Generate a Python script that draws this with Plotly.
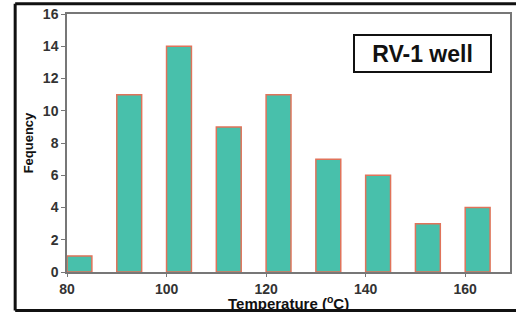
import plotly.graph_objects as go

bin_starts = [80, 90, 100, 110, 120, 130, 140, 150, 160]
frequency = [1, 11, 14, 9, 11, 7, 6, 3, 4]
bin_width = 5
x_ticks = [80, 100, 120, 140, 160]
y_ticks = [0, 2, 4, 6, 8, 10, 12, 14, 16]

fig = go.Figure()
fig.add_trace(go.Bar(
    x=[b + bin_width / 2 for b in bin_starts],
    y=frequency,
    width=bin_width,
    marker=dict(color="#48c0ab", line=dict(color="#e0735a", width=1.5)),
))

tick_font = dict(family="Liberation Sans, Arial", size=14, color="#333333", weight="bold")
fig.update_layout(
    width=516, height=315,
    margin=dict(l=67, r=4, t=14, b=43),
    paper_bgcolor="white", plot_bgcolor="white",
    showlegend=False,
    font=dict(family="Liberation Sans, Arial"),
    xaxis=dict(range=[80, 169], tickvals=x_ticks, ticks="outside", ticklen=3,
               tickcolor="#777777", linecolor="#777777", linewidth=1.5, mirror=True,
               showgrid=False, zeroline=False, tickfont=tick_font),
    yaxis=dict(range=[0, 16], tickvals=y_ticks, ticks="outside", ticklen=4,
               tickcolor="#777777", linecolor="#777777", linewidth=1.5, mirror=True,
               showgrid=False, zeroline=False, tickfont=tick_font,
               title=dict(text="<b>Fequency</b>", standoff=6,
                          font=dict(family="Liberation Sans, Arial", size=13, color="#111111"))),
)

# X-axis title placed precisely
fig.add_annotation(xref="paper", yref="paper", x=0.5, y=-0.12,
                   text="<b>Temperature (<sup>o</sup>C)</b>", showarrow=False,
                   font=dict(family="Liberation Sans, Arial", size=15, color="#111111"),
                   xanchor="center", yanchor="middle")

# Outer black frame, drawn as four separate edges
fx0, fx1, fy0, fy1 = -0.117, 1.02, -0.149, 1.04
frame = dict(color="#111111", width=3)
for (a, b, c, d) in [(fx0, fy0, fx1, fy0), (fx0, fy1, fx1, fy1),
                     (fx0, fy0, fx0, fy1), (fx1, fy0, fx1, fy1)]:
    fig.add_shape(type="line", xref="paper", yref="paper",
                  x0=a, y0=b, x1=c, y1=d, line=frame, layer="above")

fig.add_annotation(xref="paper", yref="paper", x=0.803, y=0.847,
                   text="<b>RV-1 well</b>", showarrow=False,
                   font=dict(family="Liberation Sans, Arial", size=23, color="#111111"),
                   width=133, height=33, borderpad=1,
                   bordercolor="#111111", borderwidth=2,
                   bgcolor="white", xanchor="center", yanchor="middle")

fig.write_html("out.html", config={"displayModeBar": False},
               post_script="document.body.style.margin='0';")
